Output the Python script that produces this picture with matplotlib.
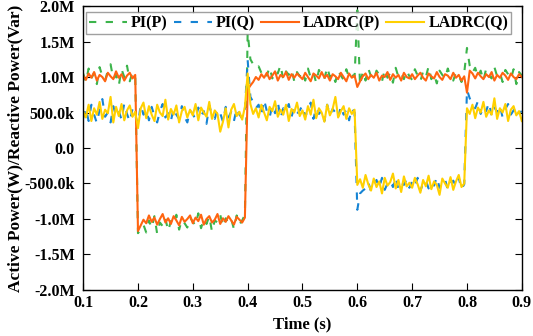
import numpy as np
import matplotlib
matplotlib.use("Agg")
import matplotlib.pyplot as plt

plt.rcParams['font.family'] = ['Liberation Serif', 'DejaVu Serif']
plt.rcParams['font.weight'] = 'bold'

# time axis, 5 ms samples from 0.1 s to 0.9 s
time = np.round(0.1 + 0.005 * np.arange(161), 3)

# values in kW / kVar
pi_p = [
    1050, 930, 1120, 980, 1060, 900, 1140, 1010, 950, 1090, 1180, 970, 1030, 880, 1110, 1000, 1160, 940, 1070, 1020,
    -1200, -1150, -1080, -1190, -1020, -1130, -960, -1210, -1050, -1100, -990, -1170, -1030, -1080, -940, -1150, -1010, -1060, -1120, -980,
    -1040, -1090, -920, -1130, -1000, -1070, -960, -1180, -1020, -1050, -940, -1110, -990, -1060, -1000, -1140, -950, -1080, -1020, -940,
    1630, 1250, 1180, 1120, 1150, 1060, 1110, 1020, 1140, 980, 1090, 1050, 1170, 960, 1080, 1030, 1110, 940, 1070, 1010,
    1080, 950, 1120, 990, 1060, 920, 1100, 1030, 970, 1140, 1000, 1050, 930, 1090, 1020, 960, 1110, 990, 1040, 1000,
    1940, 880, 1080, 950, 1120, 1010, 960, 1090, 1030, 940, 1100, 990, 1060, 920, 1130, 1000, 1050, 970, 1090, 1010,
    960, 1110, 1020, 940, 1080, 1000, 1150, 970, 1040, 910, 1090, 1030, 980, 1120, 1000, 950, 1070, 1020, 930, 1060,
    1410, 1160, 1060, 1130, 1000, 1090, 950, 1120, 1020, 980, 1140, 1010, 1060, 930, 1100, 1040, 970, 1110, 900, 1070,
    1020,
]
pi_q = [
    420, 560, 380, 610, 470, 350, 540, 690, 440, 500, 360, 590, 450, 520, 400, 630, 480, 370, 550, 460,
    330, 610, 470, 540, 390, 580, 450, 360, 520, 620, 430, 490, 380, 560, 470, 410, 590, 440, 360, 530,
    480, 400, 570, 450, 520, 340, 600, 460, 410, 550, 490, 370, 580, 430, 510, 380, 560, 470, 420, 540,
    1240, 720, 650, 560, 610, 470, 680, 520, 430, 600, 490, 650, 420, 560, 510, 620, 440, 570, 480, 530,
    600, 450, 520, 640, 410, 570, 480, 530, 380, 610, 460, 550, 500, 420, 590, 470, 540, 390, 560, 500,
    -870, -640, -600, -570, -480, -610, -520, -450, -560, -420, -590, -500, -460, -550, -410, -580, -490, -520, -440, -560,
    -470, -540, -420, -600, -500, -450, -570, -480, -530, -410, -560, -490, -440, -590, -500, -460, -540, -420, -580, -510,
    820, 700, 610, 560, 660, 480, 590, 520, 640, 450, 570, 510, 600, 430, 550, 620, 470, 530, 580, 490,
    520,
]
ladrc_p = [
    1020, 960, 1050, 990, 1070, 950, 1030, 1000, 940, 1060, 1010, 970, 1080, 990, 1040, 950, 1020, 1060, 980, 1030,
    -1170, -1090, -1010, -1060, -950, -1040, -980, -1080, -1000, -930, -1050, -990, -1070, -960, -1020, -1090, -970, -1040, -1000, -950,
    -1060, -980, -1030, -940, -1080, -1000, -960, -1050, -1010, -930, -1070, -990, -1040, -960, -1020, -1080, -970, -1010, -1050, -980,
    820, 880, 930, 1000, 960, 1040, 990, 1060, 970, 1020, 1080, 950, 1030, 1000, 1070, 960, 1040, 990, 1050, 1010,
    970, 1060, 1000, 940, 1050, 1020, 980, 1070, 990, 1030, 950, 1040, 1010, 970, 1060, 1000, 940, 1050, 990, 1020,
    860, 940, 1010, 1050, 970, 1030, 990, 1060, 950, 1020, 1000, 1070, 960, 1040, 990, 1030, 950, 1060, 1000, 980,
    1040, 970, 1020, 1060, 990, 950, 1050, 1010, 980, 1070, 1000, 960, 1040, 1020, 970, 1060, 990, 1030, 950, 1010,
    780, 1090, 1050, 980, 1060, 1010, 970, 1040, 1000, 1070, 950, 1030, 990, 1060, 1020, 960, 1050, 1000, 970, 1040,
    1000,
]
ladrc_q = [
    520, 430, 610, 380, 560, 470, 650, 410, 540, 490, 720, 360, 580, 450, 620, 390, 530, 600, 440, 510,
    280, 560, 640, 420, 590, 470, 380, 610, 500, 450, 680, 400, 550, 470, 600, 360, 520, 580, 430, 540,
    460, 620, 390, 570, 500, 440, 650, 410, 530, 480, 230, 370, 560, 290, 540, 620, 450, 510, 400, 580,
    1050, 620, 480, 560, 430, 610, 500, 390, 580, 520, 660, 440, 540, 470, 610, 380, 550, 500, 640, 450,
    530, 400, 590, 470, 680, 420, 560, 500, 370, 610, 460, 550, 720, 430, 520, 590, 410, 560, 480, 540,
    -520, -440, -560, -380, -510, -600, -430, -550, -470, -640, -420, -530, -480, -360, -570, -450, -620, -400, -540, -490,
    -560, -420, -510, -630, -450, -540, -390, -580, -470, -520, -660, -430, -500, -560, -410, -590, -470, -380, -550, -500,
    560, 480, 610, 420, 570, 500, 650, 440, 530, 470, 700, 410, 560, 500, 620, 380, 540, 590, 460, 520,
    380,
]

series = [
    ("PI(P)", pi_p, "#3cb44b", (0, (3.5, 4.5))),
    ("PI(Q)", pi_q, "#1684d4", (0, (3.5, 4.5))),
    ("LADRC(P)", ladrc_p, "#ff6410", "-"),
    ("LADRC(Q)", ladrc_q, "#ffd000", "-"),
]

y_ticks = [2000, 1500, 1000, 500, 0, -500, -1000, -1500, -2000]
y_labels = ["2.0M", "1.5M", "1.0M", "500.0k", "0.0", "-500.0k", "-1.0M", "-1.5M", "-2.0M"]
x_ticks = [0.1, 0.2, 0.3, 0.4, 0.5, 0.6, 0.7, 0.8, 0.9]

fig, ax = plt.subplots(figsize=(5.33, 3.36), dpi=100)
fig.subplots_adjust(left=0.156, right=0.979, top=0.982, bottom=0.137)

for name, vals, col, ls in series:
    ax.plot(time, vals, color=col, ls=ls, lw=1.5, label=name)

ax.set_xlim(0.1, 0.9)
ax.set_ylim(-2000, 2000)
ax.set_xticks(x_ticks)
ax.set_xticklabels([f"{v:.1f}" for v in x_ticks])
ax.set_yticks(y_ticks)
ax.set_yticklabels(y_labels)
ax.tick_params(direction='in', top=True, right=True, length=5, labelsize=11.5)
ax.tick_params(axis='y', pad=6)
for s in ax.spines.values():
    s.set_linewidth(1.0)

ax.set_xlabel("Time (s)", fontsize=12, fontweight='bold', labelpad=4)
ax.set_ylabel("Active Power(W)/Reactive Power(Var)", fontsize=12.5, fontweight='bold', labelpad=1)

leg = ax.legend(loc='upper center', ncol=4, fontsize=11.5, handlelength=2.4,
                columnspacing=0.35, handletextpad=0.25, borderpad=0.2,
                borderaxespad=0.0, frameon=True, fancybox=False,
                bbox_to_anchor=(0.491, 0.979))
leg.get_frame().set_edgecolor('#888888')
leg.get_frame().set_linewidth(1.0)

plt.savefig("out.png", dpi=100)
plt.close()
